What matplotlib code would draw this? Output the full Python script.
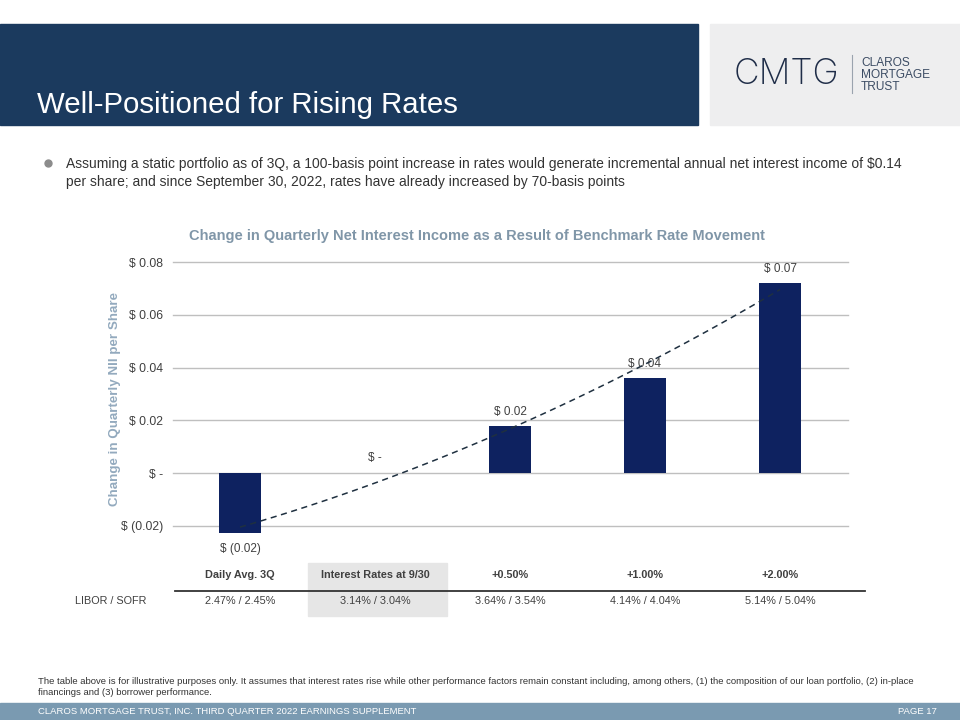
import numpy as np
import matplotlib.pyplot as plt
import matplotlib.transforms as mtransforms
from matplotlib.patches import Rectangle

# chart data
scenarios = ["Daily Avg. 3Q", "Interest Rates at 9/30", "+0.50%", "+1.00%", "+2.00%"]
nii_change = [-0.0225, 0.0, 0.018, 0.036, 0.072]
bar_labels = ["$ (0.02)", "$ -", "$ 0.02", "$ 0.04", "$ 0.07"]
libor_sofr = ["2.47% / 2.45%", "3.14% / 3.04%", "3.64% / 3.54%", "4.14% / 4.04%", "5.14% / 5.04%"]
yticks = [-0.02, 0.0, 0.02, 0.04, 0.06, 0.08]
ytick_labels = ["$ (0.02)", "$ -", "$ 0.02", "$ 0.04", "$ 0.06", "$ 0.08"]

NAVY = "#1B3A5E"
BAR = "#0E2260"
SLATE = "#7A9AB1"
TXT = "#404040"
narrow = ["Liberation Sans Narrow", "Liberation Sans", "DejaVu Sans"]
arial = ["Liberation Sans", "DejaVu Sans"]

W, H = 960, 720
fig = plt.figure(figsize=(9.6, 7.2), dpi=100)


def fy(y):
    return 1 - y / H


def fx(x):
    return x / W


# header band + logo box
fig.patches.append(Rectangle((0, fy(125)), fx(698), (125 - 24) / H, transform=fig.transFigure,
                             color=NAVY, zorder=0))
fig.patches.append(Rectangle((fx(710), fy(125)), fx(250), (125 - 24) / H, transform=fig.transFigure,
                             color="#EEEEEF", zorder=0))
fig.text(fx(37), fy(105), "Well-Positioned for Rising Rates", color="white", fontsize=21.2,
         family=arial, va="center", ha="left")
fig.text(fx(734), fy(74), "CMTG", color="#1F2D48", fontsize=25.5, family=["Inter", "Liberation Sans"],
         fontweight="light", va="center", ha="left")
fig.lines.append(plt.Line2D([fx(852), fx(852)], [fy(55), fy(93)], transform=fig.transFigure,
                            color="#9AA3AE", lw=0.8))
fig.text(fx(861), fy(75), "CLAROS\nMORTGAGE\nTRUST", color="#3C4C64", fontsize=8.6, family=arial,
         va="center", ha="left", linespacing=1.0)

# bullet text
fig.lines.append(plt.Line2D([fx(48)], [fy(163)], transform=fig.transFigure, marker="o", ms=5,
                            color="#8C8C8C", ls="none"))
fig.text(fx(66), fy(173), "Assuming a static portfolio as of 3Q, a 100-basis point increase in rates would generate "
         "incremental annual net interest income of $0.14\nper share; and since September 30, 2022, rates have "
         "already increased by 70-basis points", color="#333333", fontsize=10, family=arial,
         va="center", ha="left", linespacing=1.35)

# chart
ax = fig.add_axes([172.5 / W, fy(536.5), 675 / W, 274.5 / H])
x = np.arange(len(scenarios))
ax.bar(x, nii_change, width=0.31, color=BAR, zorder=3)
coef = np.polyfit(x, nii_change, 2)
xs = np.linspace(0, len(x) - 1, 100)
ax.plot(xs, np.polyval(coef, xs), ls=(0, (4, 3)), color="#1F3040", lw=1.1, zorder=4)
ax.set_xlim(-0.5, len(x) - 0.5)
ax.set_ylim(-0.024, 0.08)
ax.set_yticks(yticks)
ax.set_yticklabels(ytick_labels, fontsize=8.7, color=TXT, family=narrow)
ax.set_xticks([])
ax.tick_params(axis="y", length=0, pad=7)
ax.grid(axis="y", color="#BFBFBF", lw=1, zorder=0)
for gl in ax.get_ygridlines():
    gl.set_clip_on(False)
for s in ax.spines.values():
    s.set_visible(False)
ax.set_ylabel("Change in Quarterly NII per Share", fontsize=9.6, fontweight="bold", color="#93AABE",
              family=arial)
ax.yaxis.set_label_coords(-0.076, 0.5)
offsets = [-12, 11, 10, 10, 10]
for xi, v, lab, off in zip(x, nii_change, bar_labels, offsets):
    ax.annotate(lab, (xi, v), xytext=(0, off), textcoords="offset points", ha="center", va="center",
                fontsize=8.5, color=TXT, family=narrow)
fig.text(0.497, fy(236), "Change in Quarterly Net Interest Income as a Result of Benchmark Rate Movement",
         ha="center", va="center", fontsize=10.5, fontweight="bold", color="#8096A8", family=arial)

# table beneath chart
trans = mtransforms.blended_transform_factory(ax.transData, fig.transFigure)
fig.patches.append(Rectangle((0.5, fy(616)), 1.03, (616 - 563) / H, transform=trans,
                             color="#E6E6E6", zorder=0))
fig.lines.append(plt.Line2D([fx(175), fx(865)], [fy(591), fy(591)], transform=fig.transFigure,
                            color="#333333", lw=1.3))
for xi, head, val in zip(x, scenarios, libor_sofr):
    fig.text(xi, fy(575), head, transform=trans, ha="center", va="center", fontsize=7.8,
             fontweight="bold", color=TXT, family=narrow)
    fig.text(xi, fy(601), val, transform=trans, ha="center", va="center", fontsize=7.8,
             color=TXT, family=narrow)
fig.text(fx(111), fy(601), "LIBOR / SOFR", ha="center", va="center", fontsize=7.8, color=TXT, family=narrow)

# footnote + footer
fig.text(fx(38), fy(687), "The table above is for illustrative purposes only. It assumes that interest rates rise "
         "while other performance factors remain constant including, among others, (1) the composition of our "
         "loan portfolio, (2) in-place\nfinancings and (3) borrower performance.", fontsize=6.8, color="#333333",
         family=narrow, va="center", ha="left", linespacing=1.25)
fig.patches.append(Rectangle((0, 0), 1, 17 / H, transform=fig.transFigure, color=SLATE, zorder=0))
fig.text(fx(38), fy(711), "CLAROS MORTGAGE TRUST, INC. THIRD QUARTER 2022 EARNINGS SUPPLEMENT", color="white",
         fontsize=6.8, family=narrow, va="center", ha="left")
fig.text(fx(937), fy(711), "PAGE 17", color="white", fontsize=6.8, family=narrow, va="center", ha="right")

plt.savefig("out.png", dpi=100)
